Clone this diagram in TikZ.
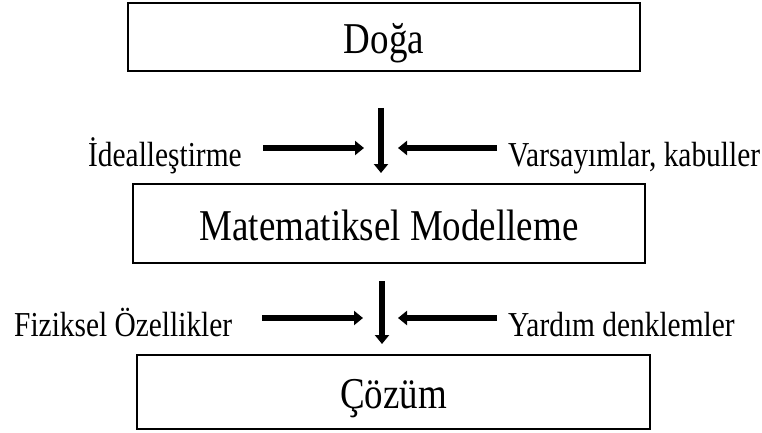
\documentclass[tikz,border=0pt]{standalone}
\usepackage{fontspec}
\setmainfont{Liberation Serif}
% a narrowed cut of the serif, set large, gives tall glyphs at the usual widths
\newfontfamily\tallserif[FakeStretch=0.84]{Liberation Serif}
\usetikzlibrary{arrows.meta}

\tikzset{
  stagebox/.style={draw=black, line width=2.5pt, fill=white, rectangle, inner sep=0pt,
    text height=33pt, text depth=0pt,
    font=\tallserif\fontsize{44}{50}\selectfont},
  sidelabel/.style={inner sep=0pt, font=\tallserif\fontsize{35}{40}\selectfont},
  flowarrow/.style={line width=5.5pt, -{Triangle[width=14pt,length=9pt]}},
}

\begin{document}
\begin{tikzpicture}[x=1pt,y=-1pt]
  \useasboundingbox (0,0) rectangle (762,433);

  % the three stages
  \node[stagebox, minimum width=512pt, minimum height=68pt] (doga) at (384,37) {Doğa};
  \node[stagebox, minimum width=512pt, minimum height=79pt] (model) at (389,223.5) {Matematiksel Modelleme};
  \node[stagebox, minimum width=513pt, minimum height=74pt] (cozum) at (393.5,392) {Çözüm};

  % first transition
  \coordinate (v1a) at (381,108);
  \coordinate (v1b) at (381,173);
  \coordinate (l1a) at (263,148);
  \coordinate (l1b) at (364,148);
  \coordinate (r1a) at (497,148);
  \coordinate (r1b) at (398,148);
  \draw[flowarrow] (v1a) -- (v1b);
  \draw[flowarrow] (l1a) -- (l1b);
  \draw[flowarrow] (r1a) -- (r1b);
  \node[sidelabel, anchor=base west] (ideal) at (88,166) {İdealleştirme};
  \node[sidelabel, anchor=base west] (varsay) at (508,166) {Varsayımlar, kabuller};

  % second transition
  \coordinate (v2a) at (382,281);
  \coordinate (v2b) at (382,344);
  \coordinate (l2a) at (262,318);
  \coordinate (l2b) at (363,318);
  \coordinate (r2a) at (497,318);
  \coordinate (r2b) at (398,318);
  \draw[flowarrow] (v2a) -- (v2b);
  \draw[flowarrow] (l2a) -- (l2b);
  \draw[flowarrow] (r2a) -- (r2b);
  \node[sidelabel, anchor=base west] (fiz) at (14,336) {Fiziksel Özellikler};
  \node[sidelabel, anchor=base west] (yard) at (508,336) {Yardım denklemler};
\end{tikzpicture}
\end{document}
